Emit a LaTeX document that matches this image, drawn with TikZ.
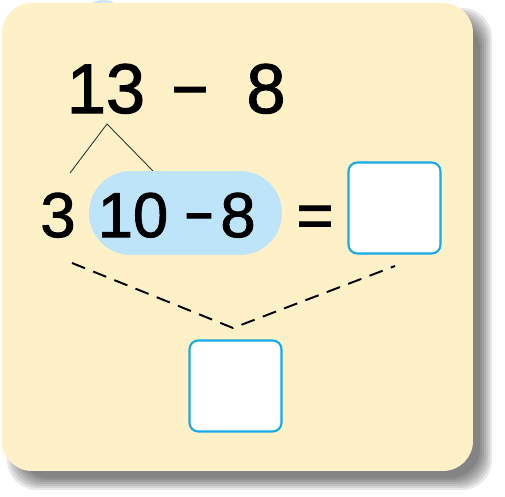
\documentclass[tikz,border=0pt]{standalone}
\usepackage{fontspec}
\setmainfont{Liberation Sans}
\newfontfamily\numfont{Liberation Sans}[FakeBold=1.6]
\definecolor{cardfill}{RGB}{254,240,199}
\definecolor{pillblue}{RGB}{190,228,250}
\definecolor{boxblue}{RGB}{22,170,232}
\begin{document}
\begin{tikzpicture}[x=0.02cm, y=-0.02cm,
  bignum/.style={font=\numfont\fontsize{40}{40}\selectfont, inner sep=0pt, anchor=base},
  num/.style={font=\numfont\fontsize{36}{36}\selectfont, inner sep=0pt, anchor=base},
  answerbox/.style={draw=boxblue, line width=1.2pt, fill=white, rounded corners=5pt,
    minimum width=1.84cm, minimum height=1.82cm, inner sep=0pt}]
\useasboundingbox (0,0) rectangle (505,497);

% Blue card peeking out behind
\fill[pillblue!80] (103,16) ellipse [x radius=20, y radius=16];

% Shadow
\foreach \s in {-5,-3,...,7}
  \fill[black, opacity=0.09, rounded corners=0.6cm] (14-\s,15-\s) rectangle (485+\s,483+\s);

% Card
\fill[cardfill, rounded corners=0.6cm] (2,3) rectangle (473,471);

% Top row
\node[bignum] (t13) at (106,113) {13};
\node[bignum, xscale=0.9] (tminus) at (190,113) {−};
\node[bignum] (t8) at (266,113) {8};

% Split lines
\coordinate (split) at (107,124);
\coordinate (splitL) at (70,173);
\coordinate (splitR) at (153,171);
\draw[line width=0.5pt, black!80] (splitL) -- (split) -- (splitR);

% Second row
\node[fill=pillblue, rounded corners=0.84cm, minimum width=3.86cm, minimum height=1.68cm] (pill) at (185.5,213) {};
\node[num] (s3) at (58,237) {3};
\node[num] (s10) at (133,237) {10};
\node[num, xscale=0.78] (sminus) at (199,237) {−};
\node[num] (s8) at (238,237) {8};
\node[num] (eq) at (315,237) {=};
\node[answerbox] (boxR) at (394.5,208) {};

% Dashed lines
\coordinate (dashL) at (72,263);
\coordinate (dashM) at (233,328);
\coordinate (dashR) at (395,266);
\draw[line width=1.1pt, dash pattern=on 8pt off 5pt] (dashL) -- (dashM) -- (dashR);

% Bottom box
\node[answerbox] (boxB) at (235.5,386) {};
\end{tikzpicture}
\end{document}
